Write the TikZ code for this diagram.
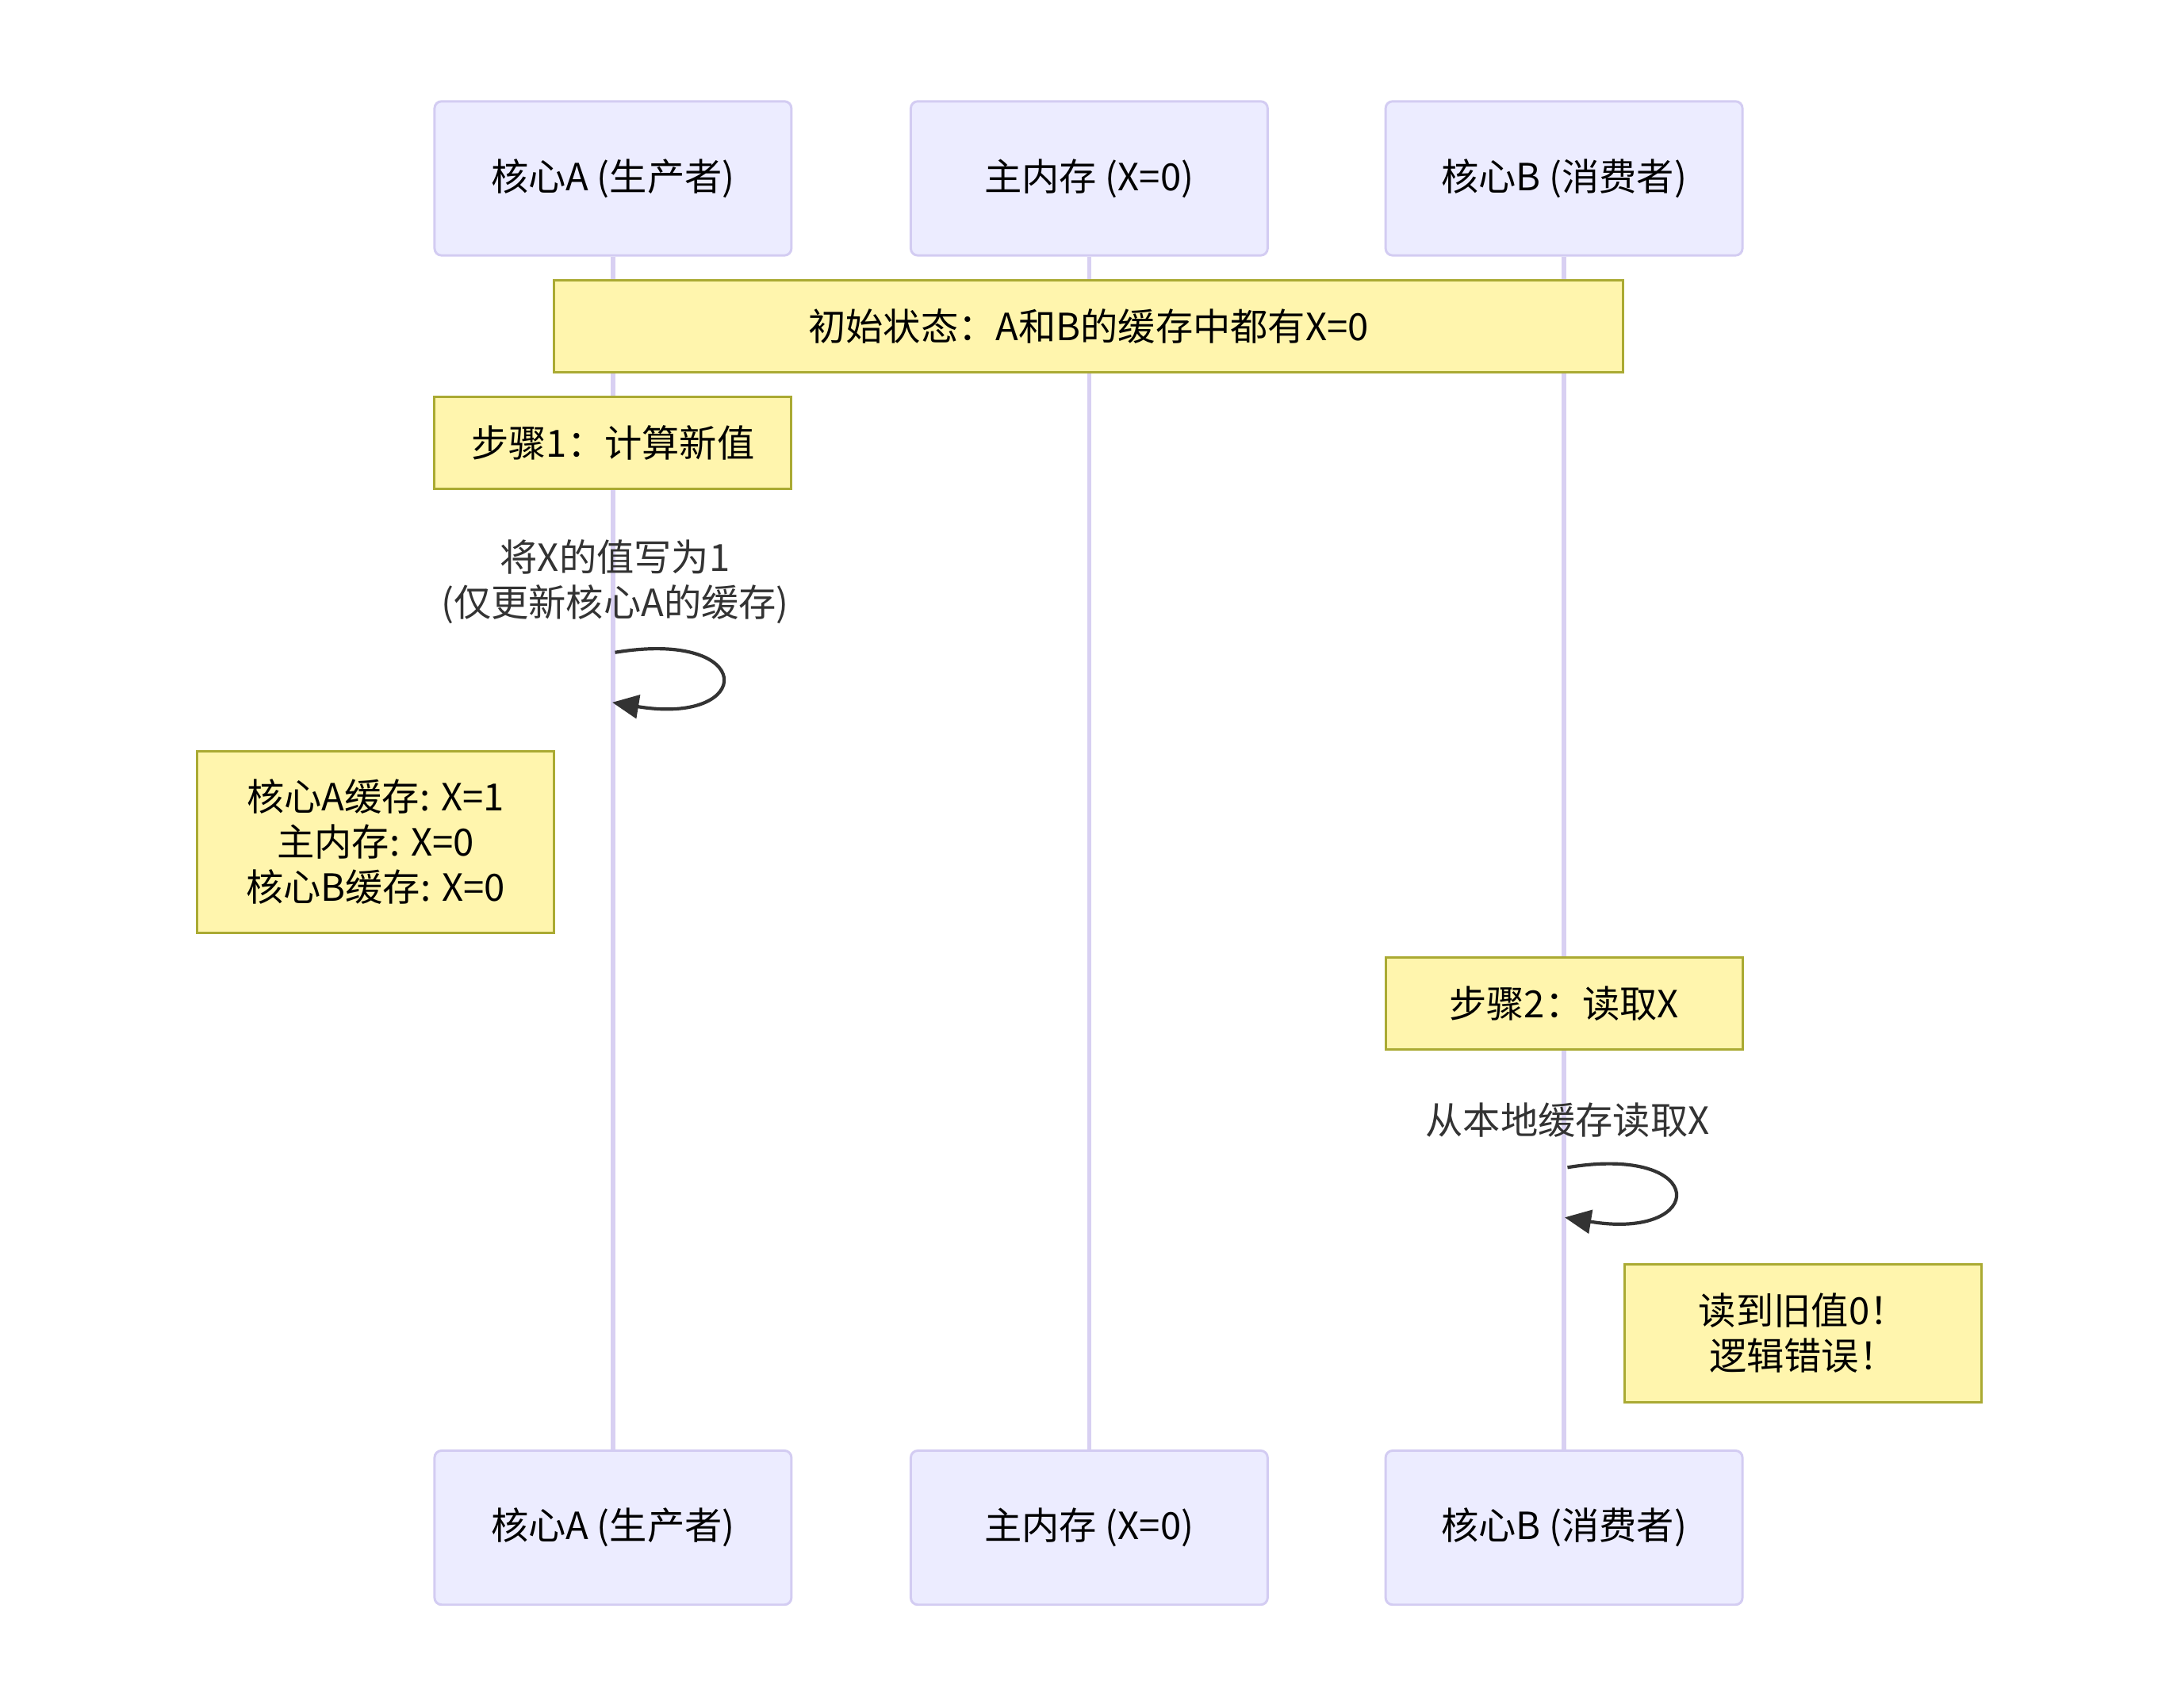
\documentclass[tikz,border=0pt]{standalone}
\usepackage{fontspec}
\setmainfont{Noto Sans CJK SC}
\usetikzlibrary{arrows.meta}
\definecolor{actorfill}{HTML}{ECECFF}
\definecolor{actorline}{HTML}{D3CCF2}
\definecolor{lifecolor}{HTML}{D8D0F2}
\definecolor{notefill}{HTML}{FFF5AD}
\definecolor{noteline}{HTML}{AAAA33}
\definecolor{msgcolor}{HTML}{333333}
\tikzset{
  actor/.style={draw=actorline,fill=actorfill,line width=1.7pt,rounded corners=5pt,
    minimum width=257pt,minimum height=111pt,inner sep=0pt,font=\fontsize{27}{32.5}\selectfont},
  note/.style={draw=noteline,fill=notefill,line width=1.7pt,minimum height=66pt,
    inner sep=0pt,align=center,font=\fontsize{27}{32.5}\selectfont},
  lifeline/.style={draw=lifecolor,line width=3.2pt},
  msg/.style={draw=msgcolor,line width=2.4pt,-{Triangle[length=19pt,width=17pt]}},
  msgtext/.style={text=msgcolor,align=center,inner sep=0pt,font=\fontsize{27}{32.5}\selectfont}
}
\begin{document}
\begin{tikzpicture}[x=1pt,y=-1pt]
\useasboundingbox (0,0) rectangle (1568,1230);
% actors
\node[actor] (aTop) at (441.5,128.5) {核心A (生产者)};
\node[actor] (mTop) at (784.5,128.5) {主内存 (X=0)};
\node[actor] (bTop) at (1126.5,128.5) {核心B (消费者)};
\node[actor] (aBot) at (441.5,1100.5) {核心A (生产者)};
\node[actor] (mBot) at (784.5,1100.5) {主内存 (X=0)};
\node[actor] (bBot) at (1126.5,1100.5) {核心B (消费者)};

\draw[lifeline] (aTop.south) -- (aBot.north);
\draw[lifeline] (mTop.south) -- (mBot.north);
\draw[lifeline] (bTop.south) -- (bBot.north);

% notes
\node[note,minimum width=770pt] (init) at (784,235) {初始状态：A和B的缓存中都有X=0};
\node[note,minimum width=257pt] (step1) at (441.5,319) {步骤1：计算新值};
\node[note,minimum width=257pt,minimum height=131pt] (state) at (270.5,606.5)
  {核心A缓存: X=1\\主内存: X=0\\核心B缓存: X=0};
\node[note,minimum width=257pt] (step2) at (1126.5,723) {步骤2：读取X};
\node[note,minimum width=257pt,minimum height=99pt] (stale) at (1298.5,960.5)
  {读到旧值0！\\逻辑错误！};

% self messages
\node[msgtext] (msgA) at (443,419) {将X的值写为1\\(仅更新核心A的缓存)};
\coordinate (loopAs) at (443,470);
\coordinate (loopAe) at (441,506);
\draw[msg] (loopAs) .. controls +(103,-17) and +(103,17) .. (loopAe);

\node[msgtext] (msgB) at (1129,807) {从本地缓存读取X};
\coordinate (loopBs) at (1129,841);
\coordinate (loopBe) at (1127,877);
\draw[msg] (loopBs) .. controls +(103,-17) and +(103,17) .. (loopBe);
\end{tikzpicture}
\end{document}
